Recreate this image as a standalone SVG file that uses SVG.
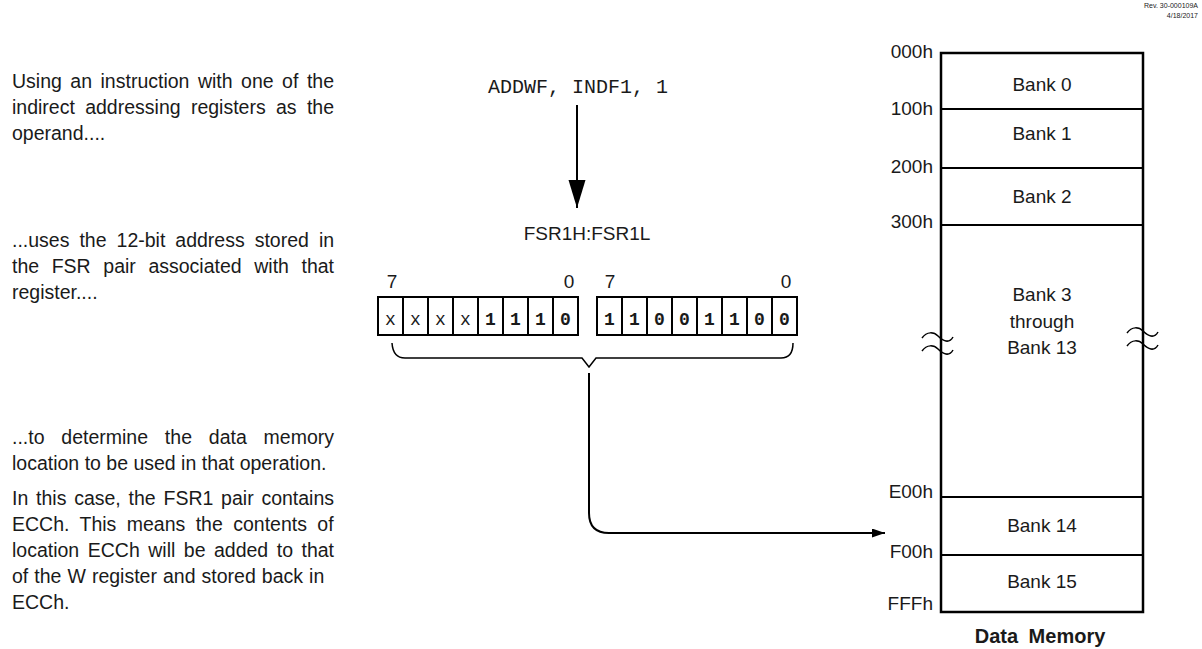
<svg xmlns="http://www.w3.org/2000/svg" width="1202" height="649" viewBox="0 0 1202 649">
<style>
  .t { font-family: "Liberation Sans", Arial, sans-serif; fill: #1a1a1a; }
  .body { font-size: 19.5px; }
  .lbl { font-size: 19px; }
  .addr { font-size: 19px; text-anchor: end; }
  .bank { font-size: 19px; text-anchor: middle; }
  .mono { font-family: "Liberation Mono", "Courier New", monospace; fill: #1a1a1a; }
  .bit { font-size: 18px; text-anchor: middle; }
  .bold { font-weight: bold; }
  .box { fill: #ffffff; stroke: #000000; stroke-width: 2; }
  .mem { fill: #ffffff; stroke: #000000; stroke-width: 2.5; }
  .div { stroke: #000000; stroke-width: 2; }
  .wire { fill: none; stroke: #000000; stroke-width: 2; }
  .thin { fill: none; stroke: #000000; stroke-width: 1.5; }
</style>
<defs>
  <marker id="bigArrow" markerUnits="userSpaceOnUse" markerWidth="30" markerHeight="18" refX="28" refY="8.5" orient="auto">
    <path d="M0,0 L28,8.5 L0,17 z" fill="#000000"/>
  </marker>
  <marker id="smallArrow" markerUnits="userSpaceOnUse" markerWidth="14" markerHeight="10" refX="13" refY="4.5" orient="auto">
    <path d="M0,0 L13,4.5 L0,9 z" fill="#000000"/>
  </marker>
</defs>

<g id="revision">
  <text class="t" x="1198" y="8" font-size="7" text-anchor="end" fill="#444">Rev. 30-000109A</text>
  <text class="t" x="1198" y="18" font-size="7" text-anchor="end" fill="#444">4/18/2017</text>
</g>

<g id="text-operand">
  <text class="t body" x="12" y="88" word-spacing="3.08">Using an instruction with one of the</text>
  <text class="t body" x="12" y="114" word-spacing="4.9">indirect addressing registers as the</text>
  <text class="t body" x="12" y="140">operand....</text>
</g>
<g id="text-fsr">
  <text class="t body" x="12" y="247" word-spacing="4.58">...uses the 12-bit address stored in</text>
  <text class="t body" x="12" y="273" word-spacing="7.18">the FSR pair associated with that</text>
  <text class="t body" x="12" y="299">register....</text>
</g>
<g id="text-location">
  <text class="t body" x="12" y="444" word-spacing="11.4">...to determine the data memory</text>
  <text class="t body" x="12" y="470">location to be used in that operation.</text>
</g>
<g id="text-case">
  <text class="t body" x="12" y="505" word-spacing="2.37">In this case, the FSR1 pair contains</text>
  <text class="t body" x="12" y="531" word-spacing="5.0">ECCh. This means the contents of</text>
  <text class="t body" x="12" y="557" word-spacing="3.08">location ECCh will be added to that</text>
  <text class="t body" x="12" y="583" word-spacing="0.63">of the W register and stored back in</text>
  <text class="t body" x="12" y="609">ECCh.</text>
</g>

<g id="instruction">
  <text class="mono" x="578" y="93" font-size="20" text-anchor="middle">ADDWF, INDF1, 1</text>
</g>

<g id="fsr-register">
  <text class="t lbl" x="587" y="240" text-anchor="middle">FSR1H:FSR1L</text>
  <text class="t lbl" x="392" y="288" text-anchor="middle">7</text>
  <text class="t lbl" x="569" y="288" text-anchor="middle">0</text>
  <text class="t lbl" x="610" y="288" text-anchor="middle">7</text>
  <text class="t lbl" x="786" y="288" text-anchor="middle">0</text>
  <rect class="box" x="378" y="297" width="200" height="38"/>
  <line class="div" x1="403" y1="297" x2="403" y2="335"/>
  <line class="div" x1="428" y1="297" x2="428" y2="335"/>
  <line class="div" x1="453" y1="297" x2="453" y2="335"/>
  <line class="div" x1="478" y1="297" x2="478" y2="335"/>
  <line class="div" x1="503" y1="297" x2="503" y2="335"/>
  <line class="div" x1="528" y1="297" x2="528" y2="335"/>
  <line class="div" x1="553" y1="297" x2="553" y2="335"/>
  <text class="mono bit" x="390.5" y="325">x</text>
  <text class="mono bit" x="415.5" y="325">x</text>
  <text class="mono bit" x="440.5" y="325">x</text>
  <text class="mono bit" x="465.5" y="325">x</text>
  <text class="mono bit bold" x="490.5" y="325">1</text>
  <text class="mono bit bold" x="515.5" y="325">1</text>
  <text class="mono bit bold" x="540.5" y="325">1</text>
  <text class="mono bit bold" x="565.5" y="325">0</text>
  <rect class="box" x="597" y="297" width="200" height="38"/>
  <line class="div" x1="622" y1="297" x2="622" y2="335"/>
  <line class="div" x1="647" y1="297" x2="647" y2="335"/>
  <line class="div" x1="672" y1="297" x2="672" y2="335"/>
  <line class="div" x1="697" y1="297" x2="697" y2="335"/>
  <line class="div" x1="722" y1="297" x2="722" y2="335"/>
  <line class="div" x1="747" y1="297" x2="747" y2="335"/>
  <line class="div" x1="772" y1="297" x2="772" y2="335"/>
  <text class="mono bit bold" x="609.5" y="325">1</text>
  <text class="mono bit bold" x="634.5" y="325">1</text>
  <text class="mono bit bold" x="659.5" y="325">0</text>
  <text class="mono bit bold" x="684.5" y="325">0</text>
  <text class="mono bit bold" x="709.5" y="325">1</text>
  <text class="mono bit bold" x="734.5" y="325">1</text>
  <text class="mono bit bold" x="759.5" y="325">0</text>
  <text class="mono bit bold" x="784.5" y="325">0</text>
</g>

<g id="data-memory">
  <rect class="mem" x="941" y="53" width="202" height="559"/>
  <line class="div" x1="941" y1="109" x2="1143" y2="109"/>
  <line class="div" x1="941" y1="168" x2="1143" y2="168"/>
  <line class="div" x1="941" y1="225" x2="1143" y2="225"/>
  <line class="div" x1="941" y1="497" x2="1143" y2="497"/>
  <line class="div" x1="941" y1="555" x2="1143" y2="555"/>
  <path class="thin" d="M922,338 C927,331 934,332 938,336 C943,341 949,344 953,337"/>
  <path class="thin" d="M922,351 C927,344 934,345 938,349 C943,354 949,357 953,350"/>
  <path class="thin" d="M1127,333 C1132,326 1139,327 1143,331 C1148,336 1154,339 1158,332"/>
  <path class="thin" d="M1127,346 C1132,339 1139,340 1143,344 C1148,349 1154,352 1158,345"/>
  <text class="t addr" x="933" y="58">000h</text>
  <text class="t addr" x="933" y="115">100h</text>
  <text class="t addr" x="933" y="173">200h</text>
  <text class="t addr" x="933" y="228">300h</text>
  <text class="t addr" x="933" y="498">E00h</text>
  <text class="t addr" x="933" y="558">F00h</text>
  <text class="t addr" x="933" y="610">FFFh</text>
  <text class="t bank" x="1042" y="91">Bank 0</text>
  <text class="t bank" x="1042" y="140">Bank 1</text>
  <text class="t bank" x="1042" y="203">Bank 2</text>
  <text class="t bank" x="1042" y="301">Bank 3</text>
  <text class="t bank" x="1042" y="328">through</text>
  <text class="t bank" x="1042" y="354">Bank 13</text>
  <text class="t bank" x="1042" y="532">Bank 14</text>
  <text class="t bank" x="1042" y="588">Bank 15</text>
  <text class="t bold" x="1040" y="643" font-size="20" text-anchor="middle" word-spacing="5">Data Memory</text>
</g>

<g id="connectors">
  <path class="wire" d="M577,105 L577,208" marker-end="url(#bigArrow)"/>
  <path class="thin" d="M392,343 Q393,358 405,358 L582,358 L589,367 L596,358 L781,358 Q793,358 793,343"/>
  <path class="wire" d="M589,373 L589,513 Q589,533 609,533 L885,533" marker-end="url(#smallArrow)"/>
</g>
</svg>
